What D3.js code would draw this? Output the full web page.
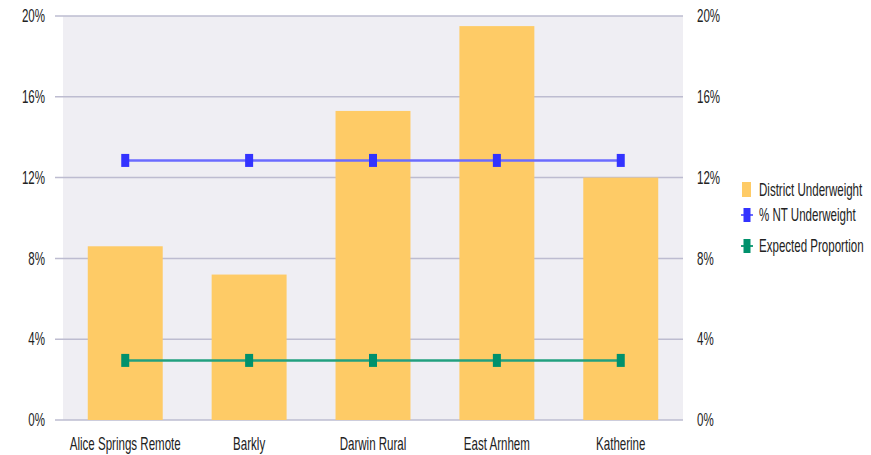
<!DOCTYPE html>
<meta charset="utf-8">
<style>
body { margin: 0; background: #fff; }
svg { display: block; }
text { font-family: "Liberation Sans", Arial, sans-serif; font-size: 17.5px; fill: #222; }
</style>
<svg width="871" height="455"></svg>
<script src="https://cdn.jsdelivr.net/npm/d3@7"></script>
<script>

var districts = ["Alice Springs Remote", "Barkly", "Darwin Rural", "East Arnhem", "Katherine"];
var districtUnderweight = [8.6, 7.2, 15.3, 19.5, 12.0];
var ntUnderweight = [12.85, 12.85, 12.85, 12.85, 12.85];
var expectedProportion = [2.95, 2.95, 2.95, 2.95, 2.95];
var yTicks = [0, 4, 8, 12, 16, 20];
var legendLabels = ["District Underweight", "% NT Underweight", "Expected Proportion"];

var svg = d3.select("svg"),
    margin = {top: 16, left: 63, right: 188, bottom: 35},
    width = 871 - margin.left - margin.right,
    height = 455 - margin.top - margin.bottom,
    g = svg.append("g").attr("transform", "translate(" + margin.left + "," + margin.top + ")");

// the original text is squeezed sideways, so squash it the same way
var squeeze = 0.66;
function place(x, y) { return "translate(" + x + "," + y + ") scale(" + squeeze + ",1)"; }

var x = d3.scaleBand().domain(districts).range([0, width]).paddingInner(0.395).paddingOuter(0.2);
var y = d3.scaleLinear().domain([0, 20]).range([height, 0]);

// plot background
g.append("rect")
    .attr("width", width)
    .attr("height", height)
    .attr("fill", "#efeef3");

// gridlines stick out a little on the left
g.selectAll(".grid")
  .data(yTicks)
  .enter().append("line")
    .attr("x1", -8)
    .attr("x2", width)
    .attr("y1", function(d) { return y(d); })
    .attr("y2", function(d) { return y(d); })
    .attr("stroke", "#bdbcd0")
    .attr("stroke-width", 1.5);

// left and right tick labels
g.selectAll(".ylabL")
  .data(yTicks)
  .enter().append("text")
    .attr("transform", function(d) { return place(-18, y(d)); })
    .attr("dy", "0.35em")
    .attr("text-anchor", "end")
    .text(function(d) { return d + "%"; });

g.selectAll(".ylabR")
  .data(yTicks)
  .enter().append("text")
    .attr("transform", function(d) { return place(width + 14, y(d)); })
    .attr("dy", "0.35em")
    .text(function(d) { return d + "%"; });

// bars
g.selectAll(".bar")
  .data(districts)
  .enter().append("rect")
    .attr("x", function(d) { return x(d); })
    .attr("width", x.bandwidth())
    .attr("y", function(d, i) { return y(districtUnderweight[i]); })
    .attr("height", function(d, i) { return height - y(districtUnderweight[i]); })
    .attr("fill", "#fecb66");

// category labels
g.selectAll(".xlab")
  .data(districts)
  .enter().append("text")
    .attr("transform", function(d) { return place(x(d) + x.bandwidth() / 2, height + 30); })
    .attr("text-anchor", "middle")
    .text(function(d) { return d; });

var cx = function(d, i) { return x(districts[i]) + x.bandwidth() / 2; };

function drawSeries(values, lineColor, markColor) {
  var line = d3.line()
      .x(function(d, i) { return cx(d, i); })
      .y(function(d) { return y(d); });
  g.append("path")
      .attr("d", line(values))
      .attr("fill", "none")
      .attr("stroke", lineColor)
      .attr("stroke-width", 2.5);
  g.selectAll(null)
    .data(values)
    .enter().append("rect")
      .attr("x", function(d, i) { return cx(d, i) - 4; })
      .attr("y", function(d) { return y(d) - 6.5; })
      .attr("width", 8)
      .attr("height", 13)
      .attr("fill", markColor);
}

drawSeries(ntUnderweight, "#6b6bff", "#3333ff");
drawSeries(expectedProportion, "#22a07f", "#00916c");

// legend
var legend = svg.append("g").attr("transform", "translate(742,190)");
var ly = [0, 25, 56];

legendLabels.forEach(function(label, i) {
  var row = legend.append("g").attr("transform", "translate(0," + ly[i] + ")");
  if (i === 0) {
    row.append("rect").attr("x", 0).attr("y", -8).attr("width", 9).attr("height", 15).attr("fill", "#fecb66");
  } else {
    var c = i === 1 ? ["#6b6bff", "#3333ff"] : ["#22a07f", "#00916c"];
    row.append("line").attr("x1", -1).attr("x2", 11).attr("stroke", c[0]).attr("stroke-width", 2);
    row.append("rect").attr("x", 1.5).attr("y", -7).attr("width", 7).attr("height", 14).attr("fill", c[1]);
  }
  row.append("text").attr("transform", place(17, 0)).attr("dy", "0.35em").text(label);
});

</script>
